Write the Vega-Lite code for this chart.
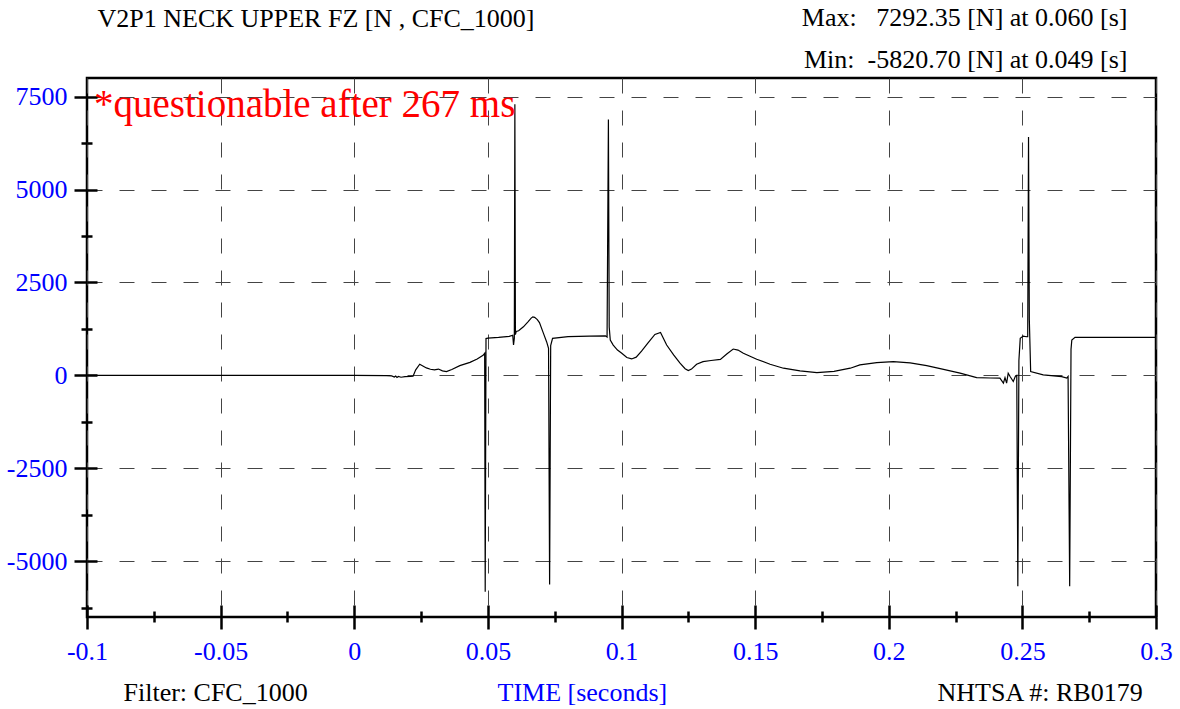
{
  "$schema": "https://vega.github.io/schema/vega-lite/v6.json",
  "width": 1069,
  "height": 539,
  "autosize": {"type": "none"},
  "padding": {"left": 87, "top": 78, "right": 24, "bottom": 92},
  "background": "white",
  "config": {
    "view": {"stroke": "black", "strokeWidth": 2.5},
    "font": "Liberation Serif",
    "axis": {
      "labelFont": "Liberation Serif",
      "titleFont": "Liberation Serif",
      "titleFontWeight": "normal",
      "titleFontSize": 26,
      "titleColor": "black",
      "domain": false,
      "grid": false,
      "labels": false,
      "ticks": false,
      "labelOverlap": false,
      "labelFlush": false,
      "labelBound": false,
      "tickColor": "black",
      "tickWidth": 2.5
    }
  },
  "resolve": {"axis": {"x": "independent", "y": "independent"}},
  "layer": [
    {
      "data": {
        "values": [
          {"t": -0.1, "fz": 0}, {"t": 0.0, "fz": 0}, {"t": 0.012, "fz": -5}, {"t": 0.014, "fz": -15},
          {"t": 0.015, "fz": -45}, {"t": 0.0155, "fz": -20}, {"t": 0.016, "fz": -55}, {"t": 0.0165, "fz": -30},
          {"t": 0.0175, "fz": -50}, {"t": 0.019, "fz": -35}, {"t": 0.021, "fz": -30}, {"t": 0.022, "fz": -20},
          {"t": 0.023, "fz": 150}, {"t": 0.0245, "fz": 300}, {"t": 0.0255, "fz": 260}, {"t": 0.027, "fz": 200},
          {"t": 0.0285, "fz": 165}, {"t": 0.03, "fz": 150}, {"t": 0.0315, "fz": 170}, {"t": 0.033, "fz": 120},
          {"t": 0.0345, "fz": 100}, {"t": 0.0365, "fz": 160}, {"t": 0.0395, "fz": 262}, {"t": 0.0433, "fz": 351},
          {"t": 0.046, "fz": 440}, {"t": 0.0482, "fz": 540}, {"t": 0.0488, "fz": 594}, {"t": 0.049, "fz": -5820.7},
          {"t": 0.0493, "fz": 990}, {"t": 0.05, "fz": 1000}, {"t": 0.054, "fz": 1020}, {"t": 0.058, "fz": 1050},
          {"t": 0.0593, "fz": 1080}, {"t": 0.0596, "fz": 820}, {"t": 0.0599, "fz": 1000}, {"t": 0.0601, "fz": 7292.35},
          {"t": 0.0603, "fz": 1100}, {"t": 0.0606, "fz": 1180}, {"t": 0.0615, "fz": 1200}, {"t": 0.0633, "fz": 1306},
          {"t": 0.065, "fz": 1440}, {"t": 0.0662, "fz": 1540}, {"t": 0.0668, "fz": 1574}, {"t": 0.0675, "fz": 1560},
          {"t": 0.0685, "fz": 1500}, {"t": 0.0693, "fz": 1420},
          {"t": 0.0708, "fz": 1130}, {"t": 0.072, "fz": 900}, {"t": 0.0727, "fz": 728}, {"t": 0.0731, "fz": -5627},
          {"t": 0.0735, "fz": 800}, {"t": 0.0742, "fz": 996}, {"t": 0.08, "fz": 1040}, {"t": 0.088, "fz": 1057},
          {"t": 0.094, "fz": 1065}, {"t": 0.0946, "fz": 1030}, {"t": 0.0951, "fz": 6885}, {"t": 0.0954, "fz": 1300},
          {"t": 0.0958, "fz": 950}, {"t": 0.0969, "fz": 816}, {"t": 0.0985, "fz": 680}, {"t": 0.1001, "fz": 594},
          {"t": 0.102, "fz": 480}, {"t": 0.1038, "fz": 442}, {"t": 0.1055, "fz": 490}, {"t": 0.1075, "fz": 650},
          {"t": 0.11, "fz": 880}, {"t": 0.1125, "fz": 1100}, {"t": 0.1146, "fz": 1156}, {"t": 0.1169, "fz": 816},
          {"t": 0.1195, "fz": 550}, {"t": 0.1219, "fz": 327}, {"t": 0.1238, "fz": 180}, {"t": 0.125, "fz": 128},
          {"t": 0.1262, "fz": 170}, {"t": 0.1281, "fz": 300}, {"t": 0.1305, "fz": 370}, {"t": 0.1335, "fz": 400},
          {"t": 0.137, "fz": 430}, {"t": 0.1395, "fz": 580}, {"t": 0.1418, "fz": 709}, {"t": 0.1436, "fz": 680},
          {"t": 0.1456, "fz": 594},
          {"t": 0.1506, "fz": 434}, {"t": 0.1556, "fz": 300}, {"t": 0.1606, "fz": 193}, {"t": 0.1668, "fz": 120},
          {"t": 0.1731, "fz": 75}, {"t": 0.1795, "fz": 110}, {"t": 0.1856, "fz": 193},
          {"t": 0.1892, "fz": 281}, {"t": 0.1955, "fz": 345}, {"t": 0.2017, "fz": 370}, {"t": 0.208, "fz": 335},
          {"t": 0.2142, "fz": 262}, {"t": 0.2205, "fz": 160}, {"t": 0.2267, "fz": 59},
          {"t": 0.2329, "fz": -59}, {"t": 0.238, "fz": -70}, {"t": 0.2416, "fz": -75}, {"t": 0.2429, "fz": -209},
          {"t": 0.2435, "fz": -60}, {"t": 0.2441, "fz": -210}, {"t": 0.2447, "fz": 59}, {"t": 0.2454, "fz": -30},
          {"t": 0.2466, "fz": -166}, {"t": 0.2474, "fz": -20}, {"t": 0.2479, "fz": 0}, {"t": 0.2483, "fz": -5670},
          {"t": 0.2487, "fz": 400}, {"t": 0.2492, "fz": 996}, {"t": 0.2503, "fz": 1057}, {"t": 0.2516, "fz": 1040},
          {"t": 0.252, "fz": 1040}, {"t": 0.2523, "fz": 6411}, {"t": 0.2526, "fz": 1500}, {"t": 0.2531, "fz": 102},
          {"t": 0.2578, "fz": 13}, {"t": 0.2647, "fz": -32}, {"t": 0.2666, "fz": -75}, {"t": 0.2671, "fz": -30},
          {"t": 0.2677, "fz": -5670}, {"t": 0.2682, "fz": 700}, {"t": 0.2685, "fz": 950}, {"t": 0.2697, "fz": 1023},
          {"t": 0.3, "fz": 1023}
        ]
      },
      "mark": {"type": "line", "color": "black", "strokeWidth": 1.2},
      "encoding": {
        "x": {
          "field": "t",
          "type": "quantitative",
          "scale": {"domain": [-0.1, 0.3], "nice": false, "zero": false},
          "axis": {
            "orient": "bottom",
            "values": [-0.1, -0.075, -0.05, -0.025, 0, 0.025, 0.05, 0.075, 0.1, 0.125, 0.15, 0.175, 0.2, 0.225, 0.25, 0.275, 0.3],
            "labels": true,
            "labelExpr": "abs(round(datum.value * 1000)) % 50 === 0 ? '' + datum.value : ''",
            "labelColor": "#0000ff",
            "labelFontSize": 26,
            "labelPadding": 9,
            "ticks": true,
            "tickSize": {"condition": {"test": "abs(round(datum.value * 1000)) % 50 === 0", "value": 12}, "value": 5},
            "grid": true,
            "gridColor": "#444444",
            "gridDash": [15, 17],
            "gridWidth": 1,
            "gridOpacity": {"condition": {"test": "abs(round(datum.value * 1000)) % 50 === 0", "value": 1}, "value": 0},
            "title": "TIME [seconds]",
            "titleColor": "#0000ff",
            "titleX": 410,
            "titleY": 83,
            "titleAlign": "left",
            "titleBaseline": "alphabetic"
          }
        },
        "y": {
          "field": "fz",
          "type": "quantitative",
          "scale": {"domain": [-6500, 8000], "nice": false, "zero": false},
          "axis": {
            "orient": "left",
            "values": [-6250, -5000, -3750, -2500, -1250, 0, 1250, 2500, 3750, 5000, 6250, 7500],
            "labels": true,
            "labelExpr": "datum.value % 2500 === 0 ? '' + datum.value : ''",
            "labelColor": "#0000ff",
            "labelFontSize": 26,
            "labelPadding": 7,
            "ticks": true,
            "tickSize": {"condition": {"test": "datum.value % 2500 === 0", "value": 13}, "value": 6},
            "grid": true,
            "gridColor": "#444444",
            "gridDash": [15, 17],
            "gridWidth": 1,
            "gridOpacity": {"condition": {"test": "datum.value % 2500 === 0", "value": 1}, "value": 0},
            "title": null
          }
        }
      }
    },
    {
      "data": {"values": [{"note": "*questionable after 267 ms"}]},
      "mark": {"type": "text", "color": "#ff0000", "fontSize": 39, "font": "Liberation Serif", "align": "left", "baseline": "alphabetic", "dx": 7, "dy": 39},
      "encoding": {
        "text": {"field": "note", "type": "nominal"},
        "x": {
          "datum": -0.1,
          "type": "quantitative",
          "axis": {
            "orient": "bottom",
            "values": [-0.1, -0.075, -0.05, -0.025, 0, 0.025, 0.05, 0.075, 0.1, 0.125, 0.15, 0.175, 0.2, 0.225, 0.25, 0.275, 0.3],
            "ticks": true,
            "tickSize": {"condition": {"test": "abs(round(datum.value * 1000)) % 50 === 0", "value": -12}, "value": -6},
            "title": "Filter: CFC_1000",
            "titleX": 36,
            "titleY": 83,
            "titleAlign": "left",
            "titleBaseline": "alphabetic"
          }
        },
        "y": {
          "datum": 8000,
          "type": "quantitative",
          "axis": {
            "orient": "left",
            "values": [-6250, -5000, -3750, -2500, -1250, 0, 1250, 2500, 3750, 5000, 6250, 7500],
            "ticks": true,
            "tickSize": {"condition": {"test": "datum.value % 2500 === 0", "value": -10}, "value": -5},
            "title": null
          }
        }
      }
    },
    {
      "data": {"values": [{"note": ""}]},
      "mark": {"type": "text"},
      "encoding": {
        "text": {"field": "note", "type": "nominal"},
        "x": {
          "datum": 0,
          "type": "quantitative",
          "axis": {"orient": "bottom", "title": "NHTSA #: RB0179", "titleX": 850, "titleY": 83, "titleAlign": "left", "titleBaseline": "alphabetic"}
        },
        "y": {"datum": 0, "type": "quantitative", "axis": null}
      }
    },
    {
      "data": {"values": [{"note": ""}]},
      "mark": {"type": "text"},
      "encoding": {
        "text": {"field": "note", "type": "nominal"},
        "x": {
          "datum": 0,
          "type": "quantitative",
          "axis": {"orient": "top", "title": "V2P1 NECK UPPER FZ [N , CFC_1000]", "titleX": 10, "titleY": -52, "titleAlign": "left", "titleBaseline": "alphabetic"}
        },
        "y": {"datum": 0, "type": "quantitative", "axis": null}
      }
    },
    {
      "data": {"values": [{"note": ""}]},
      "mark": {"type": "text"},
      "encoding": {
        "text": {"field": "note", "type": "nominal"},
        "x": {
          "datum": 0,
          "type": "quantitative",
          "axis": {"orient": "top", "title": "Max:\u00a0\u00a0 7292.35 [N] at 0.060 [s]", "titleX": 1040, "titleY": -53, "titleAlign": "right", "titleBaseline": "alphabetic"}
        },
        "y": {"datum": 0, "type": "quantitative", "axis": null}
      }
    },
    {
      "data": {"values": [{"note": ""}]},
      "mark": {"type": "text"},
      "encoding": {
        "text": {"field": "note", "type": "nominal"},
        "x": {
          "datum": 0,
          "type": "quantitative",
          "axis": {"orient": "top", "title": "Min:\u00a0 -5820.70 [N] at 0.049 [s]", "titleX": 1040, "titleY": -11, "titleAlign": "right", "titleBaseline": "alphabetic"}
        },
        "y": {"datum": 0, "type": "quantitative", "axis": null}
      }
    }
  ]
}
